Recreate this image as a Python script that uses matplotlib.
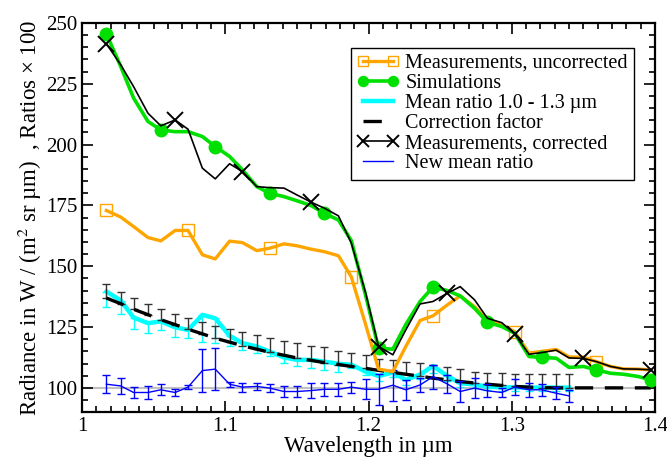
import matplotlib
matplotlib.use("Agg")
import matplotlib.pyplot as plt
from matplotlib.ticker import MultipleLocator

plt.rcParams['font.family'] = ['Liberation Serif', 'DejaVu Serif']
plt.rcParams['mathtext.fontset'] = 'stix'

# wavelength grid (µm)
wl = [1.017, 1.027, 1.036, 1.046, 1.055, 1.065, 1.074, 1.084, 1.093, 1.103,
      1.112, 1.122, 1.131, 1.141, 1.150, 1.160, 1.169, 1.179, 1.188, 1.198,
      1.207, 1.217, 1.226, 1.236, 1.245, 1.255, 1.264, 1.274, 1.283, 1.293,
      1.302, 1.312, 1.321, 1.331, 1.340, 1.350, 1.359, 1.369, 1.378, 1.388,
      1.397]

uncorrected = [172.9, 170.2, 166.3, 161.8, 160.4, 164.7, 164.7, 154.7, 153.0, 160.3,
               159.7, 156.4, 157.4, 159.2, 158.4, 157.0, 156.0, 154.3, 145.6, 126.0,
               107.7, 106.7, 117.0, 127.7, 129.6, 134.1, 137.8, 133.4, 127.9, 125.9,
               123.1, 114.3, 115.0, 115.8, 112.7, 112.6, 110.8, 108.8, 107.8, 107.7,
               107.4]

simulations = [245.5, 232.1, 219.1, 209.5, 206.0, 205.3, 205.3, 203.3, 199.2, 195.1,
               189.6, 182.7, 180.0, 178.6, 176.9, 174.9, 171.8, 169.0, 160.5, 138.0,
               116.3, 115.9, 126.0, 135.5, 141.4, 140.0, 137.8, 132.7, 127.0, 125.2,
               122.5, 112.9, 112.5, 112.2, 108.4, 108.8, 107.4, 106.0, 105.6, 104.7,
               103.3]

corrected = [241.4, 232.8, 223.8, 212.9, 207.7, 210.1, 206.3, 190.3, 185.9, 192.1,
             188.9, 182.7, 182.3, 182.1, 179.3, 176.3, 173.9, 170.7, 159.5, 139.0,
             117.0, 113.6, 123.8, 134.5, 135.5, 138.9, 141.6, 136.2, 128.6, 126.8,
             122.2, 113.8, 114.5, 115.5, 112.3, 112.1, 110.8, 108.8, 107.8, 107.7,
             107.4]

# ratios (first 35 wavelengths)
mean_ratio = [139.6, 135.9, 128.9, 126.6, 127.3, 124.9, 123.8, 130.0, 128.6, 121.4,
              118.4, 117.0, 114.9, 112.5, 111.5, 111.5, 110.8, 109.9, 109.5, 106.7,
              104.9, 106.3, 103.3, 105.5, 109.0, 104.9, 101.9, 101.4, 100.5, 100.2,
              100.2, 100.1, 100.1, 100.1, 100.1]
mean_ratio_err = [6.4, 5.6, 4.9, 4.1, 3.5, 3.8, 3.4, 11.0, 10.0, 4.0,
                  3.0, 2.5, 2.0, 2.4, 2.7, 3.4, 3.4, 3.2, 1.4, 1.4,
                  2.0, 2.0, 2.0, 2.0, 3.0, 2.0, 1.5, 1.5, 1.5, 1.5,
                  1.5, 1.5, 1.5, 1.5, 1.5]

correction = [136.9, 134.6, 132.3, 130.1, 128.0, 126.0, 124.1, 122.2, 120.4, 118.8,
              117.3, 115.9, 114.6, 113.4, 112.3, 111.3, 110.4, 109.6, 108.8, 108.0,
              107.2, 106.4, 105.6, 104.8, 104.0, 103.3, 102.6, 102.0, 101.5, 101.0,
              100.6, 100.3, 100.1, 100.0, 100.0, 100.0, 100.0, 100.0, 100.0, 100.0,
              100.0]
correction_err = [5.7, 5.0, 4.6, 4.4, 4.3, 4.4, 4.5, 4.8, 5.2, 5.4,
                  5.6, 5.9, 6.1, 6.0, 6.1, 6.1, 6.2, 5.7, 5.7, 5.6,
                  4.6, 5.1, 5.2, 5.4, 5.5, 5.2, 5.1, 4.7, 4.8, 5.0,
                  5.2, 5.5, 5.7, 5.8, 5.8]

new_ratio = [101.5, 100.8, 98.1, 98.1, 99.2, 98.1, 100.3, 107.1, 107.7, 101.5,
             100.3, 100.6, 99.9, 98.5, 98.5, 98.9, 99.4, 99.4, 100.3, 99.4,
             99.4, 101.1, 99.2, 101.2, 104.6, 101.6, 98.5, 99.9, 98.8, 98.1,
             100.3, 99.2, 99.2, 97.8, 96.7]
new_ratio_err = [3.7, 3.4, 2.4, 2.5, 2.2, 1.6, 0.8, 8.9, 8.6, 1.0,
                 1.8, 1.4, 1.5, 2.3, 2.2, 2.9, 2.7, 2.6, 2.3, 4.1,
                 6.5, 6.4, 4.1, 2.7, 5.0, 3.6, 4.5, 4.0, 2.7, 2.0,
                 3.2, 2.9, 2.4, 2.4, 2.6]

n_r = len(mean_ratio)
wl_r = wl[:n_r]

fig = plt.figure(figsize=(6.67, 4.58), dpi=100)
ax = fig.add_axes([0.123, 0.100, 0.859, 0.850])

ax.axhline(100, color='#c0c0c0', lw=1.5, zorder=1)

# one-sided error bars
ax.errorbar(wl_r, mean_ratio, yerr=[mean_ratio_err, [0] * n_r], fmt='none',
            ecolor='cyan', elinewidth=1.0, capsize=3, capthick=1.0, zorder=2)
ax.plot(wl_r, mean_ratio, color='cyan', lw=3.2, zorder=3,
        label='Mean ratio 1.0 - 1.3 µm')
ax.errorbar(wl_r, correction[:n_r], yerr=[[0] * n_r, correction_err], fmt='none',
            ecolor='#333333', elinewidth=1.0, capsize=3, capthick=1.0, zorder=3)
ax.plot(wl, correction, color='black', lw=2.4, ls=(0, (5.5, 3.5)), zorder=4,
        label='Correction factor')
ax.errorbar(wl_r, new_ratio, yerr=new_ratio_err, color='blue', lw=1.0,
            elinewidth=1.0, capsize=3, capthick=1.0, zorder=5)

ax.plot(wl, uncorrected, color='#ffa500', lw=2.4, marker='s', markevery=6,
        ms=9, mfc='none', mec='#ffa500', mew=1.0, zorder=6,
        label='Measurements, uncorrected')
ax.plot(wl, simulations, color='#00e000', lw=2.6, marker='o', markevery=4,
        ms=9, zorder=7, label='Simulations')
ax.plot(wl, corrected, color='black', lw=1.2, marker='x', markevery=5,
        ms=11, mew=1.4, zorder=8, label='Measurements, corrected')
ax.plot([], [], color='blue', lw=1.0, label='New mean ratio')

ax.set_xlim(1.0, 1.4)
ax.set_ylim(90, 250)
ax.xaxis.set_minor_locator(MultipleLocator(0.01))
ax.yaxis.set_minor_locator(MultipleLocator(5))
ax.set_yticks([100, 125, 150, 175, 200, 225, 250])
ax.set_xticks([1.0, 1.1, 1.2, 1.3, 1.4])
ax.set_xticklabels(['1', '1.1', '1.2', '1.3', '1.4'])
ax.tick_params(which='both', direction='in', top=True, right=True,
               labelsize=15, width=1.2)
ax.tick_params(which='major', length=8)
ax.tick_params(which='minor', length=4)
for s in ax.spines.values():
    s.set_linewidth(1.6)

ax.set_xlabel('Wavelength in µm', fontsize=16.5, labelpad=0)
ax.set_ylabel('Radiance in W / (m$^{2}$ sr µm)  , Ratios × 100',
              fontsize=16.5, labelpad=1)

h, l = ax.get_legend_handles_labels()
order = ['Measurements, uncorrected', 'Simulations', 'Mean ratio 1.0 - 1.3 µm',
         'Correction factor', 'Measurements, corrected', 'New mean ratio']
hh = [h[l.index(k)] for k in order]
leg = ax.legend(hh, order, loc='upper right', bbox_to_anchor=(0.963, 0.936),
                borderaxespad=0, fontsize=14.5, frameon=True, fancybox=False,
                edgecolor='black', framealpha=1, handlelength=2.1,
                labelspacing=0.05, borderpad=0.3, handletextpad=0.3,
                numpoints=2, markerscale=0.8)
leg.get_frame().set_linewidth(1.0)

fig.savefig('out.png', dpi=100)
